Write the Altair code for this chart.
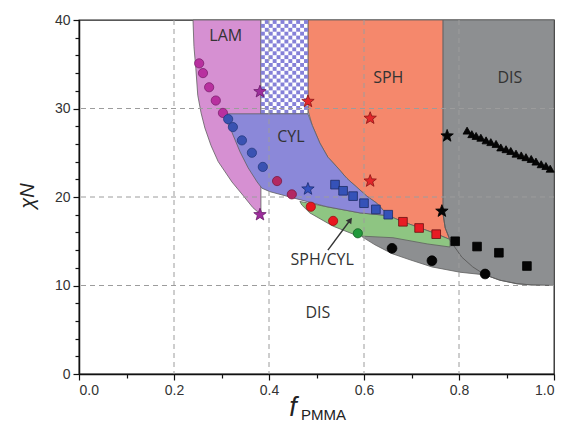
import math
import numpy as np
import pandas as pd
import altair as alt

W, H = 475, 354

# ---- axis ticks / grid ----
x_ticks = [0.0, 0.1, 0.2, 0.3, 0.4, 0.5, 0.6, 0.7, 0.8, 0.9, 1.0]
y_ticks = [0, 2, 4, 6, 8, 10, 12, 14, 16, 18, 20, 22, 24, 26, 28, 30, 32, 34, 36, 38, 40]
x_grid = [0.2, 0.4, 0.6, 0.8]
y_grid = [10, 20, 30]

# ---- phase regions (f_PMMA, chiN) ----
dis_f = [0.766, 1.0, 1.0, 0.956, 0.922, 0.886, 0.855, 0.802, 0.743, 0.697, 0.659, 0.623, 0.596, 0.62, 0.70, 0.766]
dis_chi = [40, 40, 10.0, 10.05, 10.2, 10.6, 11.2, 11.5, 12.1, 12.9, 13.6, 14.6, 15.5, 16.5, 16.5, 18.0]

sph_f = [0.482, 0.766, 0.766, 0.771, 0.781, 0.749, 0.718, 0.682, 0.651, 0.627, 0.606, 0.585, 0.564, 0.543, 0.524, 0.507, 0.491, 0.482]
sph_chi = [40, 40, 18.2, 16.5, 15.2, 15.9, 16.5, 17.2, 17.9, 19.3, 20.1, 21.1, 22.1, 23.4, 24.5, 26.1, 28.1, 29.8]

green_f = [0.465, 0.522, 0.592, 0.651, 0.682, 0.718, 0.749, 0.781, 0.781, 0.733, 0.661, 0.587, 0.535, 0.486, 0.469]
green_chi = [19.5, 18.9, 18.2, 17.9, 17.2, 16.5, 15.9, 15.2, 14.35, 14.7, 15.4, 15.6, 16.7, 18.2, 19.1]

lam_f = [0.383, 0.383, 0.366, 0.345, 0.322, 0.293, 0.278, 0.265, 0.257, 0.250, 0.246, 0.242, 0.240]
lam_chi = [40, 18.0, 18.8, 20.2, 21.7, 24.0, 25.8, 27.8, 29.5, 31.5, 34.5, 37.0, 40]

chk_f = [0.383, 0.482]
chk_chi = [29.4, 40]

cyl_f = [0.303, 0.482, 0.491, 0.507, 0.524, 0.543, 0.564, 0.585, 0.606, 0.627, 0.651, 0.592, 0.522, 0.465, 0.444, 0.402, 0.385, 0.375, 0.356, 0.339, 0.322]
cyl_chi = [29.4, 29.4, 28.1, 26.1, 24.5, 23.4, 22.1, 21.1, 20.1, 19.3, 17.9, 18.2, 18.9, 19.7, 20.0, 20.6, 21.0, 21.7, 23.3, 25.1, 27.3]

disline_f = [0.766, 0.771, 0.781, 0.806, 0.829, 0.855, 0.886, 0.922, 0.956, 1.0]
disline_chi = [18.2, 16.5, 15.1, 13.2, 12.1, 11.2, 10.6, 10.2, 10.05, 10.0]

# ---- data points ----
lamdot_f = [0.253, 0.261, 0.274, 0.288, 0.303]
lamdot_chi = [35.1, 34.0, 32.4, 30.9, 29.5]
cyldot_f = [0.314, 0.324, 0.343, 0.364, 0.387]
cyldot_chi = [28.8, 27.9, 26.4, 25.0, 23.4]
crdot_f = [0.417, 0.448]
crdot_chi = [21.8, 20.3]
reddot_f = [0.488, 0.535]
reddot_chi = [18.9, 17.3]
grdot_f = [0.587]
grdot_chi = [15.9]
bkdot_f = [0.659, 0.743, 0.855]
bkdot_chi = [14.2, 12.8, 11.3]
blsq_f = [0.539, 0.556, 0.577, 0.600, 0.625, 0.651]
blsq_chi = [21.4, 20.7, 20.1, 19.3, 18.6, 18.0]
rdsq_f = [0.682, 0.716, 0.752]
rdsq_chi = [17.2, 16.5, 15.8]
bksq_f = [0.792, 0.838, 0.884, 0.943]
bksq_chi = [15.0, 14.4, 13.7, 12.2]
pst_f = [0.381, 0.381]
pst_chi = [31.9, 18.0]
rst_f = [0.482, 0.613, 0.613]
rst_chi = [30.8, 28.9, 21.8]
bst_f = [0.482]
bst_chi = [20.9]
kst_f = [0.775, 0.764]
kst_chi = [26.9, 18.4]
tri_f = [0.817, 0.827, 0.836, 0.846, 0.857, 0.867, 0.878, 0.888, 0.899, 0.909, 0.920, 0.931, 0.941, 0.952, 0.962, 0.973, 0.983, 0.992]
tri_chi = [27.5, 27.1, 26.9, 26.7, 26.4, 26.2, 26.0, 25.6, 25.4, 25.2, 24.9, 24.7, 24.5, 24.3, 24.0, 23.7, 23.5, 23.2]

# ---- labels ----
lab_text = ["LAM", "CYL", "SPH", "DIS", "DIS", "SPH/CYL"]
lab_f = [0.309, 0.446, 0.651, 0.907, 0.503, 0.512]
lab_chi = [38.2, 26.8, 33.4, 33.4, 6.9, 12.9]
arrow_f = [0.524, 0.571]
arrow_chi = [14.0, 17.4]

# ---- build ----
xs = alt.Scale(domain=[0, 1], nice=False, zero=False)
ys = alt.Scale(domain=[0, 40], nice=False, zero=False)
xaxis = alt.Axis(values=x_ticks, format=".1f", title=None, grid=False,
                 labelExpr="round(datum.value*10) % 2 == 0 ? datum.label : ''",
                 tickSize={"condition": {"test": "round(datum.value*10) % 2 == 0", "value": 6}, "value": 4})
yaxis = alt.Axis(values=y_ticks, title=None, grid=False,
                 labelExpr="datum.value % 10 == 0 ? datum.label : ''",
                 tickSize={"condition": {"test": "datum.value % 10 == 0", "value": 6}, "value": 4})
X = alt.X("f:Q", scale=xs, axis=xaxis)
Y = alt.Y("chi:Q", scale=ys, axis=yaxis)

outline = "#5f5f5f"


def poly(fs, cs, color):
    df = pd.DataFrame({"f": list(fs) + [fs[0]], "chi": list(cs) + [cs[0]]})
    df["o"] = range(len(df))
    return alt.Chart(df).mark_line(fill=color, stroke=outline, strokeWidth=0.8,
                                   interpolate="linear").encode(x=X, y=Y, order="o:Q")


layers = [
    poly(dis_f, dis_chi, "#8d8f91"),
    poly(sph_f, sph_chi, "#f5886c"),
    poly(green_f, green_chi, "#8ec582"),
    poly(lam_f, lam_chi, "#d690d2"),
]

# checker region
chk_base = pd.DataFrame({"f": [chk_f[0]], "f2": [chk_f[1]], "chi": [chk_chi[0]], "chi2": [chk_chi[1]]})
layers.append(alt.Chart(chk_base).mark_rect(fill="white", stroke=outline, strokeWidth=0.8).encode(
    x=X, x2="f2", y=Y, y2="chi2"))
nx, ny = 12, 24
dx = (chk_f[1] - chk_f[0]) / nx
dy = (chk_chi[1] - chk_chi[0]) / ny
cells = []
for i in range(nx):
    for j in range(ny):
        if (i + j) % 2 == 0:
            cells.append({"f": chk_f[0] + i * dx, "f2": chk_f[0] + (i + 1) * dx,
                          "chi": chk_chi[0] + j * dy, "chi2": chk_chi[0] + (j + 1) * dy})
layers.append(alt.Chart(pd.DataFrame(cells)).mark_rect(fill="#8581d8", strokeWidth=0).encode(
    x=X, x2="f2", y=Y, y2="chi2"))

layers.append(poly(cyl_f, cyl_chi, "#8b88d9"))

dl = pd.DataFrame({"f": disline_f, "chi": disline_chi, "o": range(len(disline_f))})
layers.append(alt.Chart(dl).mark_line(stroke=outline, strokeWidth=1).encode(x=X, y=Y, order="o:Q"))

# grid
layers.append(alt.Chart(pd.DataFrame({"f": x_grid})).mark_rule(
    color="#9c9c9c", strokeDash=[5, 4], strokeWidth=1).encode(x=X))
layers.append(alt.Chart(pd.DataFrame({"chi": y_grid})).mark_rule(
    color="#9c9c9c", strokeDash=[5, 4], strokeWidth=1).encode(y=Y))

# markers
star = []
for k in range(10):
    r = 1.0 if k % 2 == 0 else 0.42
    th = math.pi / 2 + k * math.pi / 5
    star.append(f"{r * math.cos(th):.3f},{-r * math.sin(th):.3f}")
STAR = "M" + " L".join(star) + " Z"

rows = []


def add(fs, cs, shape, fill, stroke, size):
    for a, b in zip(fs, cs):
        rows.append({"f": a, "chi": b, "shape": shape, "fill": fill, "stroke": stroke, "size": size})


add(lamdot_f, lamdot_chi, "circle", "#b8309f", "#7e2070", 85)
add(cyldot_f, cyldot_chi, "circle", "#3a52b2", "#243a80", 85)
add(crdot_f, crdot_chi, "circle", "#b32862", "#7a1a40", 85)
add(reddot_f, reddot_chi, "circle", "#e8161f", "#9a1010", 85)
add(grdot_f, grdot_chi, "circle", "#21993b", "#146024", 85)
add(bkdot_f, bkdot_chi, "circle", "#050505", "#000000", 95)
add(blsq_f, blsq_chi, "square", "#3552b8", "#1c2c66", 75)
add(rdsq_f, rdsq_chi, "square", "#e81c24", "#6a1010", 75)
add(bksq_f, bksq_chi, "square", "#050505", "#000000", 75)
add(pst_f, pst_chi, STAR, "#9d2d9c", "#6a1a6a", 170)
add(rst_f, rst_chi, STAR, "#e3262b", "#8a1515", 170)
add(bst_f, bst_chi, STAR, "#3452c0", "#1c2c70", 170)
add(kst_f, kst_chi, STAR, "#050505", "#000000", 170)
add(tri_f, tri_chi, "triangle-up", "#050505", "#000000", 65)

pts = pd.DataFrame(rows)
layers.append(alt.Chart(pts).mark_point(filled=True, opacity=1, strokeWidth=0.8).encode(
    x=X, y=Y,
    shape=alt.Shape("shape:N", scale=None),
    fill=alt.Fill("fill:N", scale=None),
    stroke=alt.Stroke("stroke:N", scale=None),
    size=alt.Size("size:Q", scale=None)))

# arrow
ar = pd.DataFrame({"f": arrow_f, "chi": arrow_chi, "o": [0, 1]})
layers.append(alt.Chart(ar).mark_line(stroke="#333333", strokeWidth=1.4).encode(x=X, y=Y, order="o:Q"))
layers.append(alt.Chart(ar.iloc[[1]]).mark_point(shape="triangle-up", filled=True, opacity=1,
                                                 color="#333333", size=45, angle=36).encode(x=X, y=Y))

# labels
labs = pd.DataFrame({"f": lab_f, "chi": lab_chi, "t": lab_text})
layers.append(alt.Chart(labs).mark_text(font="Open Sans", fontSize=16, color="#333333").encode(
    x=X, y=Y, text="t:N"))

# axis titles
layers.append(alt.Chart(pd.DataFrame({"f": [0]})).mark_text(
    font="Liberation Sans", fontSize=20, fontStyle="italic", angle=270, color="#222222",
    align="center", baseline="middle").encode(x=alt.value(-51), y=alt.value(176), text=alt.value("χN")))
layers.append(alt.Chart(pd.DataFrame({"f": [0]})).mark_text(
    font="Liberation Sans", fontSize=27, fontStyle="italic", color="#222222",
    align="center", baseline="alphabetic").encode(x=alt.value(214), y=alt.value(396), text=alt.value("f")))
layers.append(alt.Chart(pd.DataFrame({"f": [0]})).mark_text(
    font="Liberation Sans", fontSize=15, color="#222222",
    align="left", baseline="alphabetic").encode(x=alt.value(222), y=alt.value(400), text=alt.value("PMMA")))

chart = alt.layer(*layers).properties(
    width=W, height=H,
    padding={"left": 71, "top": 12, "right": 6, "bottom": 52},
    autosize=alt.AutoSizeParams(type="none"),
).configure_axis(
    domainColor="#111111", domainWidth=1.5, tickColor="#111111", tickWidth=1.2,
    labelFont="Liberation Sans", labelFontSize=14, labelColor="#333333", labelPadding=3,
).configure_view(stroke="#222222", strokeWidth=1.3)

chart.save("out.html", embed_options={"renderer": "svg", "actions": False})
